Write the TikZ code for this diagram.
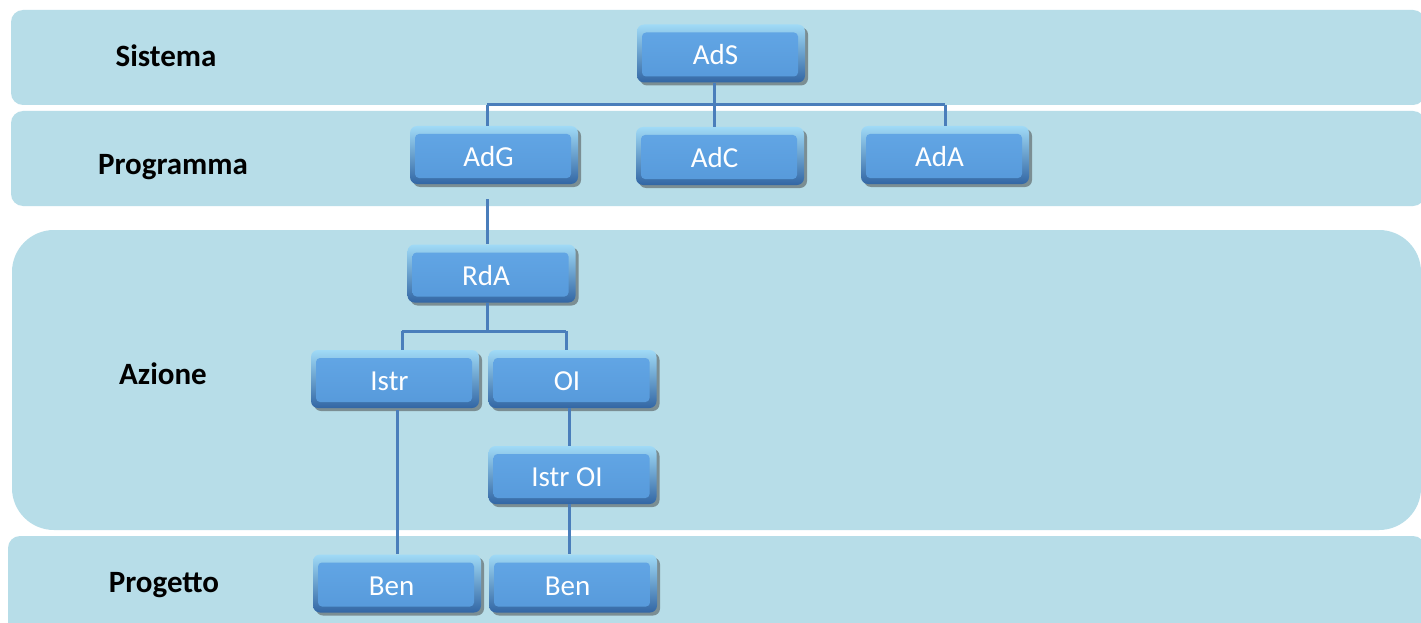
\documentclass[tikz,border=0pt]{standalone}
\usepackage{fontspec}
\setmainfont{Carlito}
\usetikzlibrary{shadows}
\definecolor{band}{HTML}{B7DDE8}
\definecolor{conn}{HTML}{4A7EBB}
\definecolor{boxtop}{HTML}{A0DAF6}
\definecolor{boxmid}{HTML}{5A9EDE}
\definecolor{boxbot}{HTML}{3266A4}
\definecolor{facetop}{HTML}{63A7E6}
\definecolor{facebot}{HTML}{5699DA}
\tikzset{
 lvl/.style={font=\fontsize{31}{36}\selectfont\bfseries, text height=21pt, text depth=6pt, inner sep=0pt},
 unit/.style={minimum width=168pt, minimum height=58pt, inner sep=0pt, rounded corners=7pt,
   top color=boxtop, middle color=boxmid, bottom color=boxbot,
   drop shadow={shadow xshift=3pt, shadow yshift=-3pt, opacity=0.5, fill=black!75},
   text=white, font=\fontsize{29}{33}\selectfont, text height=23pt, text depth=0pt,
   execute at begin node={\hspace*{-11pt}},
   path picture={\shade[top color=facetop,bottom color=facebot, rounded corners=4pt]
     ([shift={(5pt,-8pt)}]path picture bounding box.north west) rectangle
     ([shift={(-7pt,6pt)}]path picture bounding box.south east);}},
 link/.style={draw=conn, line width=3pt}
}
\begin{document}
\begin{tikzpicture}[x=1pt,y=-1pt]
\useasboundingbox (0,0) rectangle (1421,623);
\clip (0,0) rectangle (1421,623);
\fill[white] (0,0) rectangle (1421,623);
% bands
\fill[band, rounded corners=12pt] (11,10) rectangle (1425,105);
\fill[band, rounded corners=12pt] (11,111) rectangle (1425,206);
\fill[band, rounded corners=42pt] (12,230) rectangle (1421,530);
\fill[band, rounded corners=12pt] (8,536) rectangle (1425,650);
% level labels
\node[lvl] (sis) at (166,59.5) {Sistema};
\node[lvl] (prog) at (173,167.5) {Programma};
\node[lvl] (az) at (163,376.5) {Azione};
\node[lvl] (pro) at (164,584.5) {Progetto};
% boxes
\node[unit] (AdS) at (721,53.5) {AdS};
\node[unit] (AdG) at (494,155) {AdG};
\node[unit] (AdC) at (720,156) {AdC};
\node[unit] (AdA) at (945,155) {AdA};
\node[unit] (RdA) at (491.5,273.5) {RdA};
\node[unit] (Istr) at (395,379) {Istr};
\node[unit] (OI) at (572.5,379) {OI};
\node[unit] (IstrOI) at (572.5,475) {Istr OI};
\node[unit] (Ben1) at (397,583.5) {Ben};
\node[unit] (Ben2) at (573,583.5) {Ben};
% connectors
\coordinate (busL) at (487,105);
\coordinate (busM) at (714,105);
\coordinate (busR) at (945,105);
\draw[link] (busM |- AdS.south) -- (busM);
\draw[link] (busL) -- (busR);
\draw[link] (busL) -- (busL |- AdG.north);
\draw[link] (busM) -- (busM |- AdC.north);
\draw[link] (busR) -- (busR |- AdA.north);
\coordinate (g) at (487,199);
\draw[link] (g) -- (g |- RdA.north);
\coordinate (r) at (487,331);
\coordinate (rL) at (402,331);
\coordinate (rR) at (566,331);
\draw[link] (r |- RdA.south) -- (r);
\draw[link] (rL) -- (rR);
\draw[link] (rL) -- (rL |- Istr.north);
\draw[link] (rR) -- (rR |- OI.north);
\coordinate (i) at (397,410);
\draw[link] (i) -- (i |- Ben1.north);
\coordinate (o) at (569,410);
\draw[link] (o |- OI.south) -- (o |- IstrOI.north);
\draw[link] (o |- IstrOI.south) -- (o |- Ben2.north);
\end{tikzpicture}
\end{document}
